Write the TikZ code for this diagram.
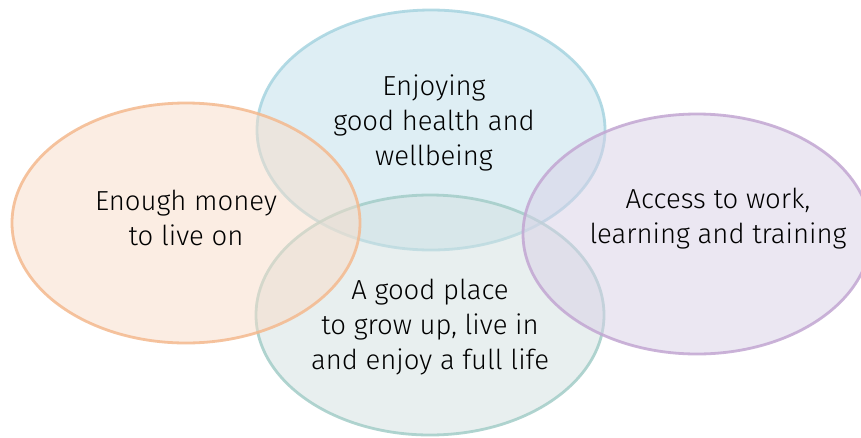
\documentclass[tikz,border=0pt]{standalone}
\usepackage{fontspec}
\setmainfont{Fira Sans Light}
\definecolor{orS}{HTML}{F4B98E}
\definecolor{orF}{HTML}{F9DDC9}
\definecolor{blS}{HTML}{A6D4E0}
\definecolor{blF}{HTML}{BFDFEB}
\definecolor{grS}{HTML}{A3CDC8}
\definecolor{grF}{HTML}{D3E1E1}
\definecolor{puS}{HTML}{C2A6D2}
\definecolor{puF}{HTML}{D9D1E7}
\tikzset{
  blob/.style={line width=2.8pt, fill opacity=0.5, draw opacity=0.85},
  lbl/.style={align=center, font=\fontsize{27.5}{35}\selectfont, text=black, inner sep=0pt}
}
\begin{document}
\begin{tikzpicture}[x=1pt,y=-1pt]
\useasboundingbox (0,0) rectangle (861,437);
\fill[white] (0,0) rectangle (861,437);
\draw[blob, draw=blS, fill=blF] (431,130) ellipse [x radius=174, y radius=120];
\draw[blob, draw=grS, fill=grF] (430,315) ellipse [x radius=174, y radius=120];
\draw[blob, draw=orS, fill=orF] (186,223) ellipse [x radius=174, y radius=120];
\draw[blob, draw=puS, fill=puF] (697,234) ellipse [x radius=174, y radius=120];
\node[lbl] (health) at (434,123) {Enjoying\\good health and\\wellbeing};
\node[lbl] (money) at (186,218) {Enough money\\to live on};
\node[lbl] (work) at (718,219) {Access to work,\\learning and training};
\node[lbl] (place) at (430,327) {A good place\\to grow up, live in\\and enjoy a full life};
\end{tikzpicture}
\end{document}
